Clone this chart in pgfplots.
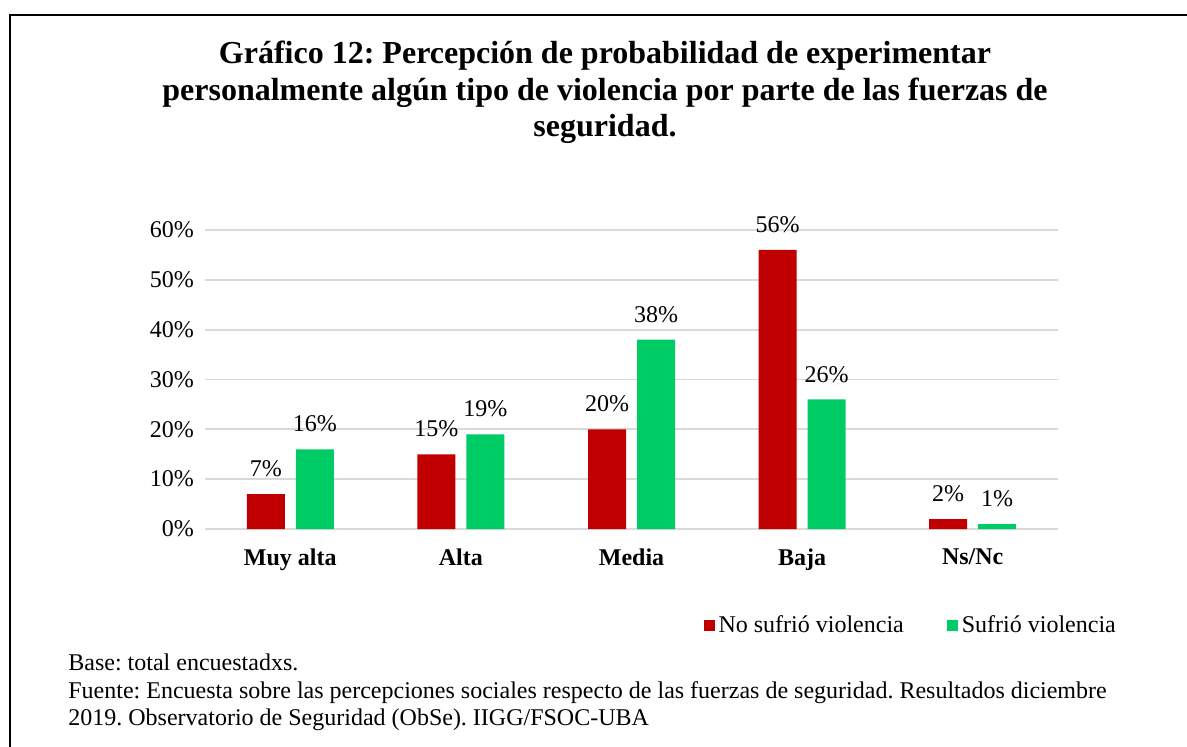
\documentclass[border=0pt]{standalone}
\usepackage{fontspec}
\setmainfont{Liberation Serif}
\usepackage{pgfplots}
\pgfplotsset{compat=1.18}
\frenchspacing

\definecolor{rojo}{HTML}{C00000}
\definecolor{verde}{HTML}{00CC66}
\definecolor{grilla}{HTML}{D9D9D9}

% categorias: 0 Muy alta, 1 Alta, 2 Media, 3 Baja, 4 Ns/Nc
\pgfplotstableread{
x val
0 7
1 15
2 20
3 56
4 2
}\nosufrio
\pgfplotstableread{
x val
0 16
1 19
2 38
3 26
4 1
}\sufrio

\begin{document}
\begin{tikzpicture}
  \useasboundingbox (0,0) rectangle (593.5pt,-373.5pt);
  % marco
  \draw[line width=1pt] (5pt,-380pt) -- (5pt,-7.5pt) -- (600pt,-7.5pt);

  % titulo
  \begin{scope}[every node/.style={font=\fontsize{16}{19}\selectfont\bfseries, anchor=base}]
    \node at (302.5pt,-31.75pt) {Gráfico 12: Percepción de probabilidad de experimentar};
    \node at (302.5pt,-50.25pt) {personalmente algún tipo de violencia por parte de las fuerzas de};
    \node at (302.5pt,-68.5pt) {seguridad.};
  \end{scope}

  \begin{axis}[
    at={(102.5pt,-264.5pt)}, anchor=south west,
    scale only axis,
    width=426.5pt, height=149.5pt,
    ybar=5.5pt, bar width=19pt,
    xmin=-0.5, xmax=4.5,
    ymin=0, ymax=60,
    xtick=data,
    xticklabels={Muy alta, Alta, Media, Baja, Ns/Nc},
    ytick={0,10,...,60},
    yticklabel={\pgfmathprintnumber{\tick}\%},
    /pgf/number format/assume math mode=true,
    major tick length=0pt,
    axis line style={draw=none},
    ymajorgrids,
    grid style={grilla, line width=0.9pt},
    tick label style={font=\fontsize{12}{14}\selectfont},
    yticklabel style={xshift=-2pt},
    xticklabel style={font=\fontsize{12}{14}\selectfont\bfseries, yshift=-6.5pt},
    nodes near coords={\pgfmathprintnumber{\pgfplotspointmeta}\%},
    nodes near coords style={font=\fontsize{12}{14}\selectfont, yshift=5pt,
      /pgf/number format/assume math mode=true},
    legend columns=2,
    legend style={at={(0.584,-0.324)}, anchor=west, draw=none, fill=none,
      inner sep=0pt, font=\fontsize{12}{14}\selectfont,
      /tikz/every even column/.append style={column sep=19.5pt}},
    legend cell align=left,
    legend image code/.code={\fill[#1] (0pt,-2.75pt) rectangle (5.5pt,2.75pt);},
  ]
    \addplot[fill=rojo, draw=none] table[x=x, y=val] {\nosufrio};
    \addlegendentry{No sufrió violencia}
    \addplot[fill=verde, draw=none] table[x=x, y=val] {\sufrio};
    \addlegendentry{Sufrió violencia}
  \end{axis}

  % nota al pie
  \begin{scope}[every node/.style={font=\fontsize{12}{14}\selectfont, anchor=base west, inner sep=0pt}]
    \node at (34pt,-335pt) {Base: total encuestadxs.};
    \node at (34pt,-349pt) {Fuente: Encuesta sobre las percepciones sociales respecto de las fuerzas de seguridad. Resultados diciembre};
    \node at (34pt,-362.5pt) {2019. Observatorio de Seguridad (ObSe). IIGG/FSOC-UBA};
  \end{scope}
\end{tikzpicture}
\end{document}
